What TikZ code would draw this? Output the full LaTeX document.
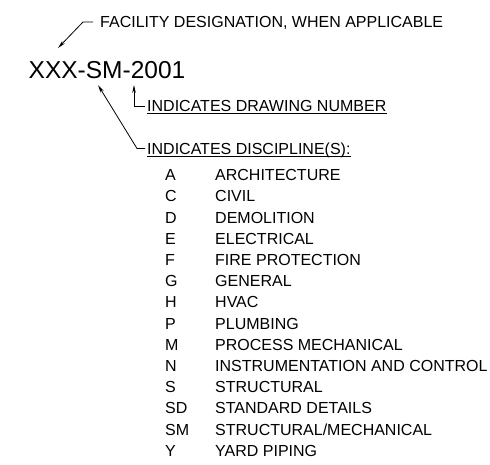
\documentclass[tikz,border=0pt]{standalone}
\usepackage{fontspec}
\setmainfont{Liberation Sans}
\usetikzlibrary{arrows.meta,calc}

\tikzset{
  txt/.style={anchor=west, inner sep=0pt, text height=11.5pt, text depth=0pt,
    font=\fontsize{16}{16}\selectfont},
  bigtxt/.style={anchor=west, inner sep=0pt, text height=17.5pt, text depth=0pt,
    font=\fontsize{24.5}{24.5}\selectfont},
  leader/.style={line width=0.8pt},
  uline/.style={line width=1pt}
}

\begin{document}
\begin{tikzpicture}[x=1pt, y=-1pt, >={Stealth[length=8pt,width=3.6pt]},
  line cap=butt, line join=miter]

\useasboundingbox (0,0) rectangle (490,465);

% ----------------------------
% PARAMETERS
% ----------------------------
\def\rowA{175}     % centre of first list row
\def\rowstep{21.2} % list row spacing
\def\colab{165}    % abbreviation column
\def\colname{215}  % discipline name column

% ----------------------------
% NUMBER AND HEADINGS
% ----------------------------
\node[bigtxt] (code) at (28.5,70) {XXX-SM-2001};
\node[txt] (facility) at (100,22) {FACILITY DESIGNATION, WHEN APPLICABLE};
\node[txt] (drawnum) at (147,106) {INDICATES DRAWING NUMBER};
\node[txt] (discip) at (147,148.5) {INDICATES DISCIPLINE(S):};

% underlines
\draw[uline] ([yshift=-2pt]drawnum.south west) -- ([yshift=-2pt]drawnum.south east);
\draw[uline] ([yshift=-2.5pt]discip.south west) -- ([yshift=-2.5pt]discip.south east);

% ----------------------------
% LEADERS
% ----------------------------
\coordinate (fdbend) at (83,22);
\coordinate (fdtip) at (58,48);
\draw[leader,->] ([xshift=-7pt]facility.west) -- (fdbend) -- (fdtip);

\coordinate (dntip) at (134,85);
\coordinate (dnbend) at (134,106);
\draw[leader,<-] (dntip) -- (dnbend) -- ([xshift=-2pt]drawnum.west);

\coordinate (dstip) at (98,85);
\coordinate (dsbend) at (137,148.5);
\draw[leader,<-] (dstip) -- (dsbend) -- ([xshift=-2pt]discip.west);

% ----------------------------
% DISCIPLINE LIST
% ----------------------------
\foreach \ab/\disc [count=\i from 0] in {A/ARCHITECTURE, C/CIVIL, D/DEMOLITION,
    E/ELECTRICAL, F/FIRE PROTECTION, G/GENERAL, H/HVAC, P/PLUMBING,
    M/PROCESS MECHANICAL, N/INSTRUMENTATION AND CONTROL, S/STRUCTURAL,
    SD/STANDARD DETAILS, SM/{STRUCTURAL/MECHANICAL}, Y/YARD PIPING} {
  \node[txt] (ab\i) at (\colab, \rowA+\rowstep*\i) {\ab};
  \node[txt] (disc\i) at (\colname, \rowA+\rowstep*\i) {\disc};
}

\end{tikzpicture}
\end{document}
